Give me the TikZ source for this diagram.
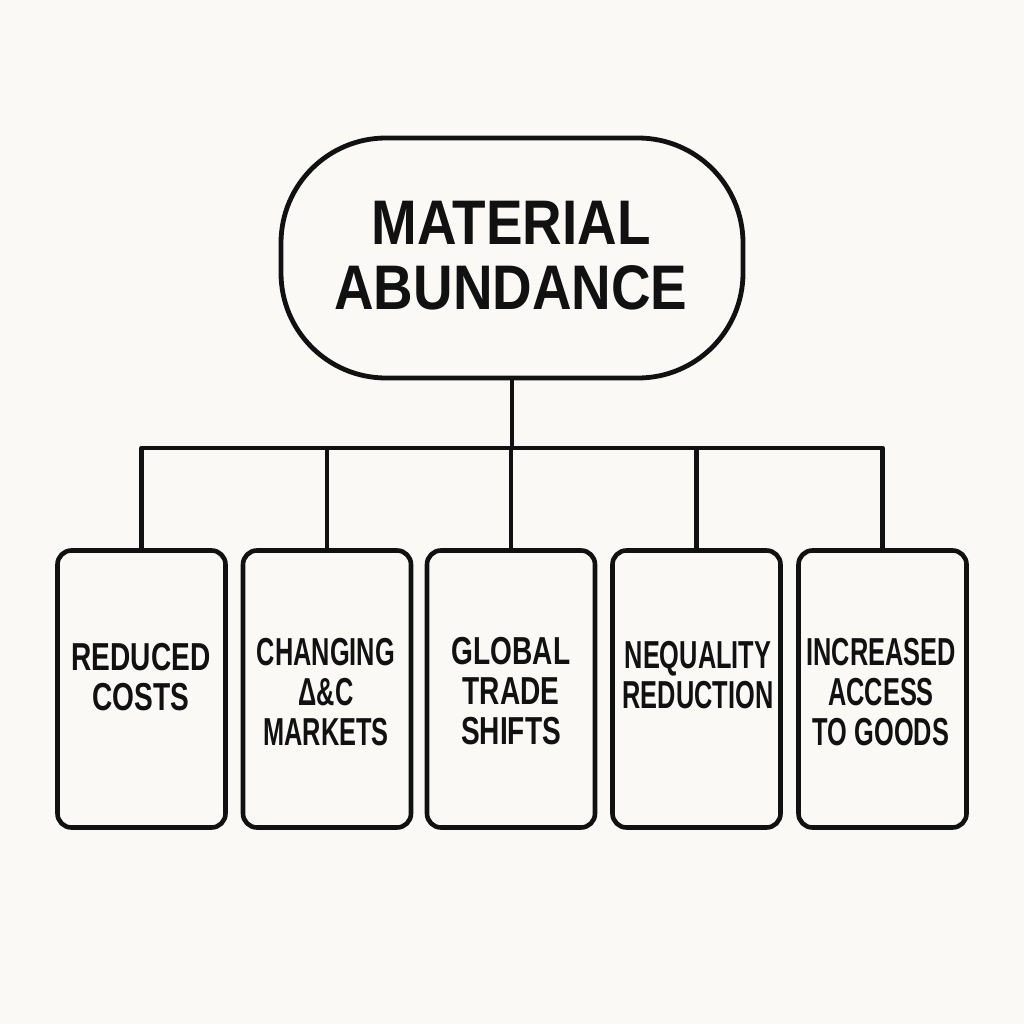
\documentclass[tikz,border=0pt]{standalone}
\usepackage{fontspec}
\newfontfamily\topfont[FakeStretch=0.87]{Liberation Sans Bold}
\newfontfamily\boxfont[FakeStretch=0.72]{Liberation Sans Bold}
\newfontfamily\boxfontn[FakeStretch=0.65]{Liberation Sans Bold}
\definecolor{bg}{HTML}{FAF9F6}
\definecolor{ink}{HTML}{111111}
\begin{document}
\begin{tikzpicture}[x=1pt,y=-1pt,
  line join=round,
  pill/.style={draw=ink,line width=4.8pt,rounded corners=105pt,minimum width=462pt,minimum height=240pt,inner sep=0pt},
  card/.style={draw=ink,line width=4.6pt,rounded corners=14pt,minimum width=168pt,minimum height=277pt,inner sep=0pt},
  toptext/.style={text=ink,align=center,font=\topfont\fontsize{63}{65}\selectfont,inner sep=0pt},
  cardtext/.style={text=ink,align=center,font=\boxfont\fontsize{39}{40}\selectfont,inner sep=0pt},
  cardtextn/.style={cardtext,font=\boxfontn\fontsize{39}{40}\selectfont},
  link/.style={draw=ink,line width=4.3pt}]
\fill[bg] (0,0) rectangle (1024,1024);
\useasboundingbox (0,0) rectangle (1024,1024);
\node[pill] (top) at (512,258) {};
\node[toptext] (toptxt) at (511,256) {MATERIAL\\ABUNDANCE};
\node[card] (b1) at (141.5,689) {};
\node[card] (b2) at (327,689) {};
\node[card] (b3) at (511,689) {};
\node[card] (b4) at (696.5,689) {};
\node[card] (b5) at (882.5,689) {};
\node[cardtext] (t1) at (141,677) {REDUCED\\COSTS};
\node[cardtextn] (t2) at (326,692) {CHANGING\\Δ\&C\\MARKETS};
\node[cardtext] (t3) at (511,691) {GLOBAL\\TRADE\\SHIFTS};
\node[cardtextn] (t4) at (698,675) {NEQUALITY\\REDUCTION};
\node[cardtextn] (t5) at (881,692) {INCREASED\\ACCESS\\TO GOODS};
\coordinate (bus) at (512,448);
\draw[link] (top.south) -- (bus);
\draw[link] (b1.north) |- (bus) -| (b5.north);
\foreach \i in {2,3,4} \draw[link] (b\i.north) -- (b\i.north |- bus);
\end{tikzpicture}
\end{document}
